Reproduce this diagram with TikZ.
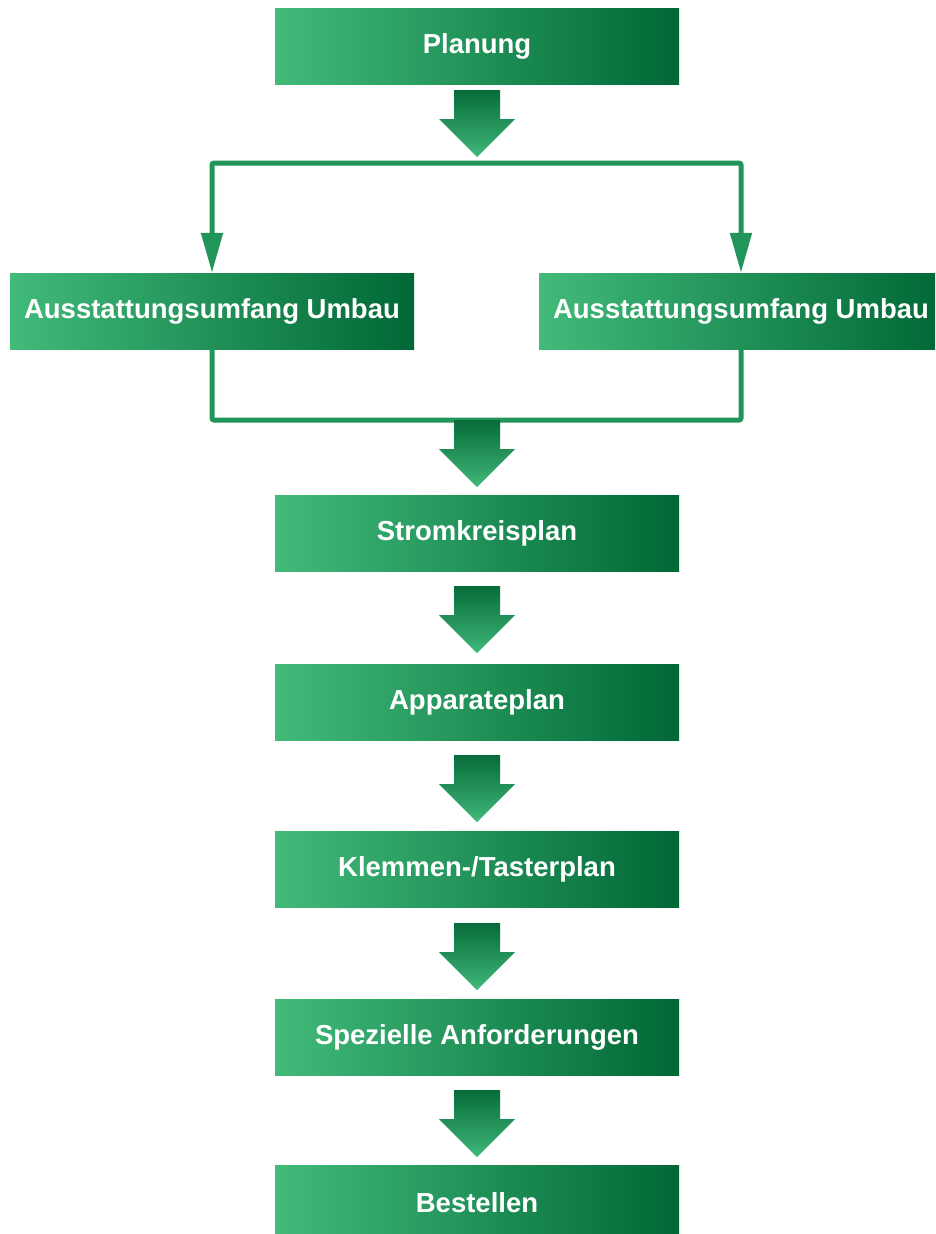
\documentclass[tikz,border=0pt]{standalone}
\usepackage{fontspec}
\setmainfont{Liberation Sans}
\usetikzlibrary{arrows.meta}
\definecolor{gL}{RGB}{66,186,122}
\definecolor{gR}{RGB}{0,104,54}
\definecolor{gM}{RGB}{34,150,90}
\definecolor{aTop}{RGB}{6,108,58}
\definecolor{aBot}{RGB}{64,184,121}
\tikzset{
  box/.style={minimum width=404pt, minimum height=76pt, inner sep=0pt,
    left color=gL, right color=gR, draw=none, text=white,
    font=\fontsize{27.5}{33}\selectfont\bfseries},
  conn/.style={draw=gM, line width=5pt, rounded corners=2pt},
  tipconn/.style={conn, -{Triangle[width=21pt,length=40pt]}},
  bigarrow/.style={top color=aTop, bottom color=aBot, draw=none}
}
\newcommand\bigarr[1]{%
  \path[bigarrow,shift={(#1)}] (-23,0) -- (23,0) -- (23,29) -- (38,29) -- (0,67) -- (-38,29) -- (-23,29) -- cycle;}
\begin{document}
\begin{tikzpicture}[x=1pt,y=-1pt]
\clip (0,0) rectangle (935,1234);
\fill[white] (0,0) rectangle (935,1234);
\node[box] (plan) at (477,46) {Planung};
\node[box] (left) at (212,311) {Ausstattungsumfang Umbau};
\node[box] (right) at (741,311) {Ausstattungsumfang Umbau};
\node[box] (strom) at (477,533) {Stromkreisplan};
\node[box] (app) at (477,702) {Apparateplan};
\node[box] (klem) at (477,869) {Klemmen-/Tasterplan};
\node[box] (spez) at (477,1037) {Spezielle Anforderungen};
\node[box] (best) at (477,1203) {Bestellen};
\coordinate (split) at (477,163);
\coordinate (join) at (477,420);
\draw[tipconn] (split) -| (left.north);
\draw[tipconn] (split) -| (right.north);
\draw[conn] (left.south) |- (join);
\draw[conn] (right.south) |- (join);
\bigarr{477,90}
\bigarr{477,420}
\bigarr{477,586}
\bigarr{477,755}
\bigarr{477,923}
\bigarr{477,1090}
\end{tikzpicture}
\end{document}
